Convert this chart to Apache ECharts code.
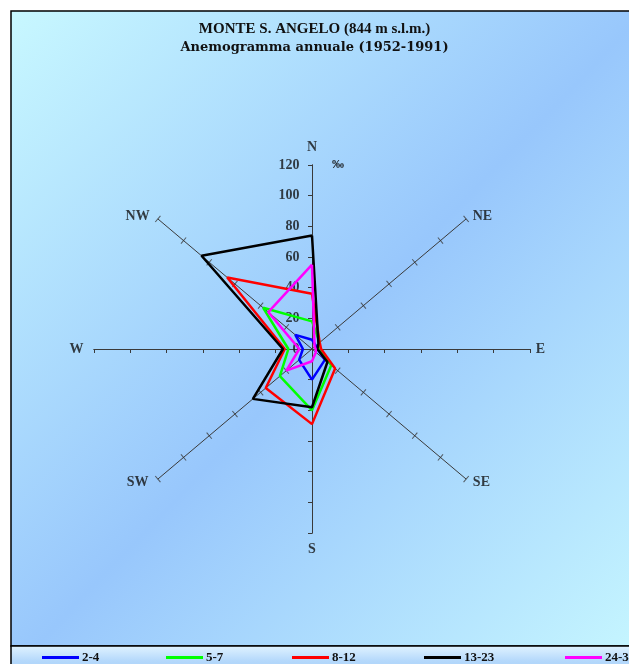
<!DOCTYPE html>
<html><head><meta charset="utf-8">
<script src="https://cdn.jsdelivr.net/npm/echarts@6/dist/echarts.min.js"></script>
<style>html,body{margin:0;padding:0;background:#fff}#c{width:629px;height:664px}</style>
</head><body><div id="c"></div>
<script>
// ---- data (‰ frequency per direction, order N, NE, E, SE, S, SW, W, NW) ----
const directions = ['N','NE','E','SE','S','SW','W','NW'];
const classNames = ['2-4','5-7','8-12','13-23','24-33'];
const cls2_4   = [6, 3, 3, 10, 20, 10, 5, 13];
const cls5_7   = [18, 6, 4, 15, 40, 25, 13, 38];
const cls8_12  = [36, 6, 5, 18, 49, 36, 15, 66];
const cls13_23 = [74, 5, 3, 12, 38, 46, 16, 86];
const cls24    = [55, 2, 2, 3, 8, 20, 7, 34];
const radialTicks = [0, 20, 40, 60, 80, 100, 120];
const rMax = 120;
const unitLabel = '‰';
const titleText = 'MONTE S. ANGELO (844 m s.l.m.)';
const subText = 'Anemogramma annuale (1952-1991)';

// ---- styles ----
const colors = ['#0000ff', '#00ff00', '#ff0000', '#000000', '#ff00ff'];
const FONT = 'Liberation Serif';
const axisColor = '#3a3a3a';
const labelOffsets = {N:[0,-5], NE:[6,6], E:[-4,0], SE:[5,-5], S:[0,4], SW:[-10,-5], W:[-3,0], NW:[-10,6]};
const legendLeft = [42, 166, 292, 424, 565];

const allSeries = [cls2_4, cls5_7, cls8_12, cls13_23, cls24];
function toXY(v, i) { const a = i * Math.PI / 4; return [v * Math.sin(a), v * Math.cos(a)]; }
function polygon(vals) { const p = vals.map(toXY); p.push(p[0]); return p; }

const c = rMax * Math.SQRT1_2;
const diagA = [], diagB = [];
radialTicks.filter(r => r > 0).forEach(r => {
  const d = r * Math.SQRT1_2;
  diagA.push([d, d], [-d, -d]);   // NE / SW arms
  diagB.push([-d, d], [d, -d]);   // NW / SE arms
});

const dirLabelData = directions.map((name, i) => {
  const p = toXY(128, i);
  return { value: p, name: name, label: { offset: labelOffsets[name] } };
});
const tickLabelData = radialTicks.map(r => ({ value: [0, r], name: String(r) }));

const axisCommon = {
  type: 'value', min: -rMax, max: rMax, interval: 20,
  axisLine: { onZero: true, onZeroAxisIndex: 0, lineStyle: { color: axisColor, width: 1 } },
  axisTick: { length: 4, lineStyle: { color: axisColor, width: 1 } },
  axisLabel: { show: false }, splitLine: { show: false }
};
const tickInside = { inside: true, length: 4, lineStyle: { color: axisColor, width: 1 } };

const series = [
  { type: 'line', data: [[-c, c], [c, -c]], symbol: 'none', silent: true, lineStyle: { color: axisColor, width: 1 }, z: 1 },
  { type: 'line', data: [[c, c], [-c, -c]], symbol: 'none', silent: true, lineStyle: { color: axisColor, width: 1 }, z: 1 },
  { type: 'scatter', data: diagA, symbol: 'rect', symbolSize: [1, 8], symbolRotate: 40, silent: true, itemStyle: { color: axisColor }, z: 1 },
  { type: 'scatter', data: diagB, symbol: 'rect', symbolSize: [1, 8], symbolRotate: -40, silent: true, itemStyle: { color: axisColor }, z: 1 },
  { type: 'scatter', data: dirLabelData, symbolSize: 1, silent: true, clip: false, itemStyle: { color: 'transparent' },
    label: { show: true, position: 'inside', formatter: '{b}', color: '#111', fontFamily: FONT, fontWeight: 'bold', fontSize: 14 }, z: 5 },
  { type: 'scatter', data: tickLabelData, symbolSize: 1, silent: true, clip: false, itemStyle: { color: 'transparent' },
    label: { show: true, position: 'left', distance: 12, formatter: '{b}', color: '#111', fontFamily: FONT, fontWeight: 'bold', fontSize: 14 }, z: 2 }
];
allSeries.forEach((vals, k) => {
  series.push({
    name: classNames[k], type: 'line', data: polygon(vals), symbol: 'none', silent: true,
    lineStyle: { color: colors[k], width: 2.5 }, itemStyle: { color: colors[k] }, z: 3 + k
  });
});

const legends = classNames.map((n, k) => ({
  data: [n], left: legendLeft[k], top: 651, padding: 0, icon: 'rect', itemWidth: 37, itemHeight: 3,
  selectedMode: false,
  textStyle: { fontFamily: FONT, fontWeight: 'bold', fontSize: 13, color: '#111', padding: [0, 0, 0, -2] }
}));

const chart = echarts.init(document.getElementById('c'), null, { renderer: 'canvas' });
chart.setOption({
  animation: false,
  backgroundColor: '#ffffff',
  graphic: [
    { type: 'rect', z: -10, shape: { x: 11, y: 11, width: 660, height: 635 },
      style: { fill: { type: 'linear', x: 0, y: 0, x2: 1, y2: 1, colorStops: [
        { offset: 0, color: '#c8f8ff' }, { offset: 0.5, color: '#98c7fc' }, { offset: 1, color: '#c8f8ff' } ] },
        stroke: '#000', lineWidth: 1.5 } },
    { type: 'rect', z: -10, shape: { x: 11, y: 646, width: 660, height: 30 },
      style: { fill: { type: 'linear', x: 0, y: 0, x2: 0, y2: 1, colorStops: [
        { offset: 0, color: '#e2f4ff' }, { offset: 0.5, color: '#b4d8fb' }, { offset: 1, color: '#a6cef8' } ] },
        stroke: '#000', lineWidth: 1.5 } }
  ],
  title: {
    text: titleText, subtext: subText, left: 'center', top: 17, itemGap: 4,
    textStyle: { fontFamily: FONT, fontWeight: 'bold', fontSize: 15, color: '#111' },
    subtextStyle: { fontFamily: 'DejaVu Serif', fontWeight: 'bold', fontSize: 13, color: '#111' }
  },
  legend: legends,
  grid: { left: 94, top: 165, width: 436, height: 368, containLabel: false },
  xAxis: [
    Object.assign({}, axisCommon),
    Object.assign({}, axisCommon, { axisTick: tickInside })
  ],
  yAxis: [
    Object.assign({}, axisCommon),
    Object.assign({}, axisCommon, {
      axisTick: tickInside,
      name: unitLabel, nameLocation: 'end', nameGap: 0,
      nameTextStyle: { fontFamily: FONT, fontWeight: 'bold', fontSize: 12, color: '#111', align: 'left', verticalAlign: 'middle', padding: [0, 0, 0, 20] }
    })
  ],
  series: series
});
</script></body></html>
